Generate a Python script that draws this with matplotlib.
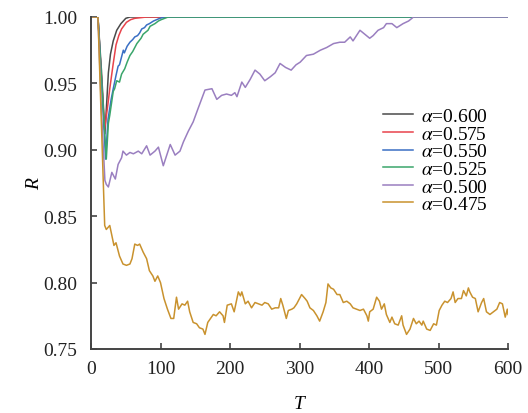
import matplotlib
matplotlib.use("Agg")
import matplotlib.pyplot as plt

plt.rcParams['font.family'] = ['Liberation Serif', 'DejaVu Serif']
plt.rcParams['mathtext.fontset'] = 'stix'

labels = [r'$\alpha$=0.600', r'$\alpha$=0.575', r'$\alpha$=0.550',
          r'$\alpha$=0.525', r'$\alpha$=0.500', r'$\alpha$=0.475']
colors = ['#4a4a4a', '#e8434b', '#3a6fc4', '#3aa56b', '#9a7fc0', '#c9922e']

t_a600 = [0, 10, 15, 20, 22, 25, 28, 32, 37, 43, 50, 56, 600]
r_a600 = [1.0, 1.0, 0.96, 0.912, 0.93, 0.958, 0.972, 0.982, 0.99, 0.995, 0.999, 1.0, 1.0]

t_a575 = [0, 10, 15, 19.5, 22, 24.5, 27, 32, 36, 40, 44, 51, 57, 63, 80, 600]
r_a575 = [1.0, 1.0, 0.955, 0.915, 0.925, 0.935, 0.946, 0.965, 0.979, 0.986, 0.991, 0.996, 0.998, 0.999, 1.0, 1.0]

t_a550 = [0, 10, 16, 21, 24.5, 29, 32, 36, 39, 41, 44, 46.5, 48, 52, 56, 60, 63, 67, 70, 73, 77, 80, 84, 90, 99, 106, 600]
r_a550 = [1.0, 1.0, 0.945, 0.893, 0.923, 0.938, 0.946, 0.956, 0.963, 0.964, 0.970, 0.975, 0.973, 0.978, 0.981, 0.983, 0.985, 0.986, 0.988, 0.991, 0.992, 0.994, 0.995, 0.997, 0.999, 1.0, 1.0]

t_a525 = [0, 10, 16, 22, 25, 27, 32, 34, 37, 41, 44, 48.5, 52, 56, 60, 63, 66, 72, 75, 82, 85, 92, 97, 101, 111, 600]
r_a525 = [1.0, 1.0, 0.945, 0.893, 0.920, 0.926, 0.944, 0.946, 0.952, 0.951, 0.957, 0.961, 0.966, 0.971, 0.974, 0.977, 0.980, 0.984, 0.987, 0.990, 0.993, 0.995, 0.997, 0.998, 1.0, 1.0]

t_a500 = [0, 10, 15, 20, 22, 25, 30, 35, 39, 44, 46, 51, 56, 61, 68, 73, 80, 85, 92, 97,
          104, 109, 114, 121, 128, 133, 140, 147, 154, 159, 164, 174, 181, 188, 195, 202,
          207, 210, 217, 222, 229, 236, 243, 250, 258, 265, 272, 280, 288, 295, 301, 310,
          320, 330, 339, 349, 358, 365, 373, 377, 387, 394, 401, 406, 413, 421, 425, 433,
          440, 449, 457, 464, 600]
r_a500 = [1.0, 1.0, 0.93, 0.877, 0.874, 0.872, 0.883, 0.878, 0.889, 0.894, 0.899, 0.896, 0.898, 0.897, 0.899, 0.897, 0.903, 0.896, 0.899, 0.902,
          0.888, 0.896, 0.904, 0.896, 0.899, 0.906, 0.914, 0.921, 0.931, 0.938, 0.945, 0.946, 0.938, 0.941, 0.942, 0.941,
          0.943, 0.940, 0.951, 0.947, 0.953, 0.960, 0.957, 0.952, 0.955, 0.958, 0.965, 0.962, 0.960, 0.964, 0.966, 0.971,
          0.972, 0.975, 0.977, 0.980, 0.981, 0.981, 0.985, 0.982, 0.990, 0.987, 0.984, 0.986, 0.990, 0.992, 0.995, 0.995,
          0.992, 0.995, 0.997, 1.0, 1.0]

t_a475 = [0, 10, 19.7, 22, 27, 29, 33, 36, 41, 46, 51, 56, 59, 63, 67, 70, 75, 80, 84, 89, 92, 96, 100,
          105, 110, 115, 119, 123, 126, 131, 135, 139, 142, 147, 152, 156, 161, 164, 168, 172, 176, 180,
          185, 190, 192, 196, 202, 206, 210, 212, 215, 217, 222, 226, 231, 236, 241, 246, 250, 255, 260,
          265, 270, 273, 276, 281, 284, 289, 292, 296, 300, 303, 308, 311, 315, 320, 325, 329, 334, 338,
          341, 345, 349, 354, 358, 363, 368, 373, 377, 382, 387, 392, 397, 399, 401, 406, 411, 415, 418,
          422, 425, 430, 433, 437, 442, 447, 449, 454, 459, 464, 468, 472, 476, 478, 483, 488, 493, 497,
          501, 505, 509, 513, 518, 521, 524, 528, 533, 536, 540, 543, 545, 549, 553, 557, 562, 565, 569,
          574, 579, 584, 588, 592, 596, 599, 600]
r_a475 = [1.0, 1.0, 0.843, 0.840, 0.843, 0.838, 0.828, 0.830, 0.820, 0.814, 0.813, 0.814, 0.818, 0.829, 0.828, 0.829, 0.823, 0.818, 0.809, 0.805, 0.801, 0.805, 0.800,
          0.788, 0.780, 0.773, 0.773, 0.789, 0.780, 0.784, 0.783, 0.786, 0.778, 0.770, 0.769, 0.766, 0.765, 0.761, 0.770, 0.773, 0.776, 0.775,
          0.778, 0.775, 0.770, 0.783, 0.784, 0.778, 0.788, 0.793, 0.790, 0.793, 0.784, 0.786, 0.781, 0.785, 0.784, 0.783, 0.785, 0.784, 0.780,
          0.781, 0.781, 0.788, 0.783, 0.773, 0.779, 0.780, 0.781, 0.784, 0.788, 0.791, 0.788, 0.786, 0.781, 0.779, 0.775, 0.771, 0.778, 0.785,
          0.799, 0.796, 0.795, 0.791, 0.791, 0.785, 0.786, 0.784, 0.781, 0.780, 0.779, 0.780, 0.775, 0.771, 0.778, 0.780, 0.789, 0.786, 0.780,
          0.784, 0.776, 0.770, 0.774, 0.769, 0.768, 0.775, 0.768, 0.761, 0.765, 0.773, 0.769, 0.771, 0.768, 0.771, 0.765, 0.764, 0.769, 0.768,
          0.779, 0.783, 0.786, 0.785, 0.788, 0.793, 0.785, 0.788, 0.788, 0.794, 0.790, 0.796, 0.793, 0.789, 0.788, 0.778, 0.785, 0.788, 0.778,
          0.776, 0.778, 0.780, 0.785, 0.784, 0.774, 0.780, 0.776]

series_t = [t_a600, t_a575, t_a550, t_a525, t_a500, t_a475]
series_r = [r_a600, r_a575, r_a550, r_a525, r_a500, r_a475]

fig = plt.figure(figsize=(5.28, 4.14), dpi=100)
ax = fig.add_axes([91/528, 1-350/414, 417/528, 332/414])

for t, r, c, lab in zip(series_t, series_r, colors, labels):
    ax.plot(t, r, color=c, lw=1.1, label=lab)

ax.set_xlim(0, 600)
ax.set_ylim(0.75, 1.00)
ax.set_xticks([0, 100, 200, 300, 400, 500, 600])
ax.set_yticks([0.75, 0.80, 0.85, 0.90, 0.95, 1.00])
ax.set_yticklabels(['0.75', '0.80', '0.85', '0.90', '0.95', '1.00'])
for s in ['top', 'right']:
    ax.spines[s].set_visible(False)
for s in ['left', 'bottom']:
    ax.spines[s].set_linewidth(1.4)
    ax.spines[s].set_color('#444444')
ax.tick_params(direction='in', length=4, width=1.2, color='#444444',
               labelsize=14, labelcolor='#222222')
ax.tick_params(axis='x', pad=8)
ax.tick_params(axis='y', pad=10)
ax.set_xlabel('T', fontstyle='italic', fontsize=14, labelpad=13)
ax.set_ylabel('R', fontstyle='italic', fontsize=14, labelpad=0)

leg = ax.legend(loc='center left', bbox_to_anchor=(0.70, 0.568), frameon=False,
                fontsize=14, handlelength=1.55, handletextpad=0.4,
                labelspacing=0.0, borderpad=0, borderaxespad=0)

fig.savefig('out.png', dpi=100)
